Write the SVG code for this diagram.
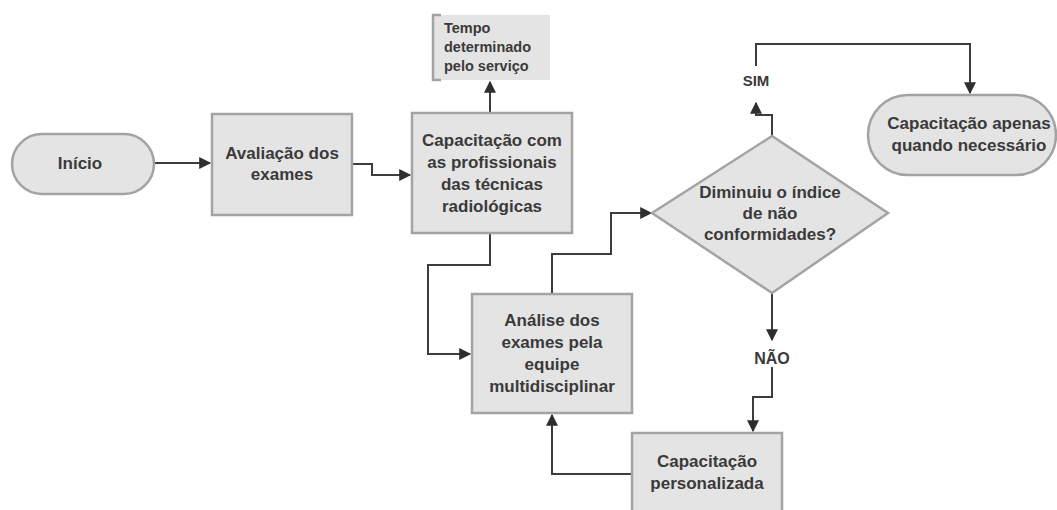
<svg xmlns="http://www.w3.org/2000/svg" width="1057" height="510" viewBox="0 0 1057 510">
<defs>
<style>
.n{fill:#e4e4e4;stroke:#a3a3a3;stroke-width:2.5}
.t{font-family:"Liberation Sans",Arial,sans-serif;font-weight:bold;font-size:17px;fill:#3a3a3a;text-anchor:middle}
.s{font-family:"Liberation Sans",Arial,sans-serif;font-weight:bold;font-size:14.5px;fill:#3a3a3a}
.c{fill:none;stroke:#3c3c3c;stroke-width:2;marker-end:url(#a)}
</style>
<marker id="a" viewBox="0 0 10 10" refX="9" refY="5" markerWidth="6.5" markerHeight="6" orient="auto" markerUnits="strokeWidth">
<path d="M0,0 L10,5 L0,10 z" fill="#2e2e2e"/>
</marker>
</defs>
<rect width="1057" height="510" fill="#ffffff"/>
<g id="connectors">
<path class="c" d="M154,163 H210"/>
<path class="c" d="M352,164 H372 V175 H410"/>
<path class="c" d="M490,113 V82"/>
<path class="c" d="M490,233 V265 H428 V354 H470"/>
<path class="c" d="M552,294 V254 H611 V213 H651"/>
<path class="c" d="M772,136 V115 H756 V103"/>
<path class="c" d="M756,66 V44 H970 V93"/>
<path class="c" d="M772,293 V340"/>
<path class="c" d="M772,367 V397 H753 V431"/>
<path class="c" d="M632,474 H552 V415"/>
</g>
<g id="inicio">
<rect class="n" x="12" y="134" width="142" height="60" rx="30"/>
<text class="t" x="80" y="169">Início</text>
</g>
<g id="avaliacao">
<rect class="n" x="212" y="114" width="140" height="101"/>
<text class="t" x="282" y="159">Avaliação dos</text>
<text class="t" x="282" y="180">exames</text>
</g>
<g id="tempo">
<rect x="432" y="15" width="118" height="65" fill="#e4e4e4"/>
<path d="M441,15 H433 V80 H441" fill="none" stroke="#a3a3a3" stroke-width="2.5"/>
<text class="s" x="444" y="33">Tempo</text>
<text class="s" x="444" y="52">determinado</text>
<text class="s" x="444" y="71">pelo serviço</text>
</g>
<g id="capacitacao">
<rect class="n" x="412" y="113" width="160" height="120"/>
<text class="t" x="492" y="146">Capacitação com</text>
<text class="t" x="492" y="168">as profissionais</text>
<text class="t" x="492" y="190">das técnicas</text>
<text class="t" x="492" y="212">radiológicas</text>
</g>
<g id="analise">
<rect class="n" x="472" y="294" width="160" height="119"/>
<text class="t" x="552" y="326">Análise dos</text>
<text class="t" x="552" y="348">exames pela</text>
<text class="t" x="552" y="370">equipe</text>
<text class="t" x="552" y="392">multidisciplinar</text>
</g>
<g id="decisao">
<polygon class="n" points="652,213 772,136 888,213 772,293"/>
<text class="t" x="770" y="198">Diminuiu o índice</text>
<text class="t" x="770" y="219">de não</text>
<text class="t" x="770" y="240">conformidades?</text>
</g>
<g id="sim">
<text class="t" x="756" y="86" style="font-size:15px">SIM</text>
</g>
<g id="nao">
<text class="t" x="772" y="364" style="font-size:16px">NÃO</text>
</g>
<g id="apenas">
<rect class="n" x="868" y="95" width="188" height="80" rx="40"/>
<text class="t" x="969" y="129">Capacitação apenas</text>
<text class="t" x="969" y="151">quando necessário</text>
</g>
<g id="personalizada">
<rect class="n" x="632" y="433" width="150" height="90"/>
<text class="t" x="707" y="467">Capacitação</text>
<text class="t" x="707" y="489">personalizada</text>
</g>
</svg>
